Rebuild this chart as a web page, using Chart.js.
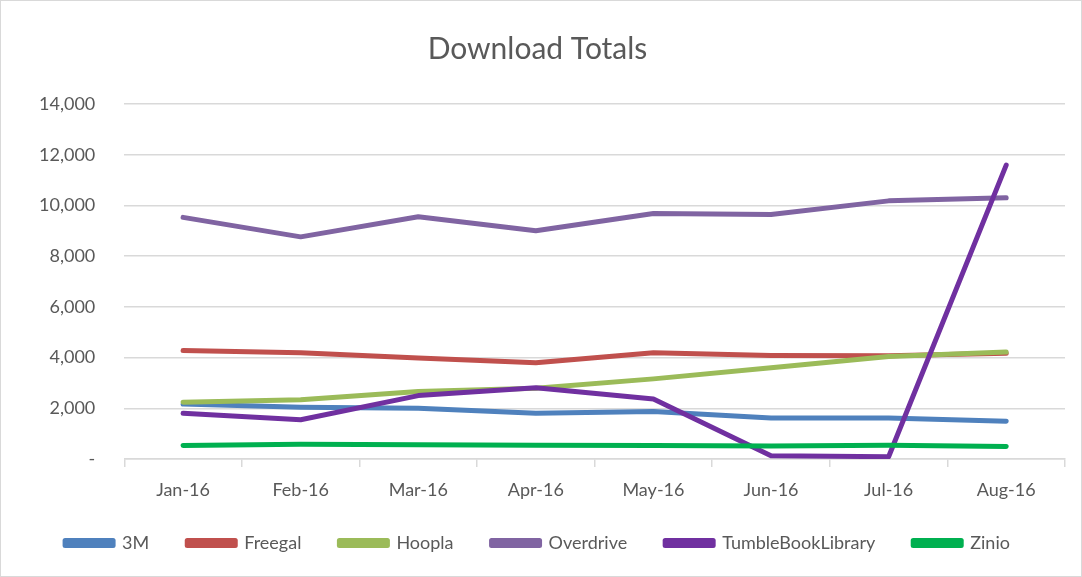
<!DOCTYPE html>
<html>
<head>
<meta charset="utf-8">
<script src="https://cdn.jsdelivr.net/npm/chart.js@4"></script>
<style>
    html, body { margin: 0; padding: 0; background: #ffffff; }
    #wrap { position: relative; width: 1080px; height: 575px; border: 1px solid #d9d9d9; }
</style>
</head>
<body>
<div id="wrap"><canvas id="chart"></canvas></div>
<script>
const months = ['Jan-16', 'Feb-16', 'Mar-16', 'Apr-16', 'May-16', 'Jun-16', 'Jul-16', 'Aug-16'];

const threeM      = [2170, 2040, 2000, 1800, 1870, 1620, 1620, 1490];
const freegal     = [4280, 4190, 3980, 3800, 4190, 4080, 4070, 4170];
const hoopla      = [2240, 2340, 2660, 2790, 3160, 3600, 4040, 4220];
const overdrive   = [9530, 8760, 9550, 9000, 9680, 9640, 10180, 10300];
const tumbleBook  = [1800, 1550, 2500, 2810, 2370, 130, 90, 11590];
const zinio       = [530, 580, 560, 540, 530, 510, 540, 490];

const seriesNames  = ['3M', 'Freegal', 'Hoopla', 'Overdrive', 'TumbleBookLibrary', 'Zinio'];
const seriesColors = ['#4f81bd', '#c0504d', '#9bbb59', '#8064a2', '#7030a0', '#00b050'];
const seriesData   = [threeM, freegal, hoopla, overdrive, tumbleBook, zinio];

const textColor = '#595959';
const fontFamily = 'Lato, "Open Sans", sans-serif';

// later series drawn on top, like Excel
const datasets = seriesNames.map((name, i) => ({
    label: name,
    data: seriesData[i],
    borderColor: seriesColors[i],
    backgroundColor: seriesColors[i],
    borderWidth: 5,
    pointRadius: 0,
    tension: 0,
    borderCapStyle: 'round',
    borderJoinStyle: 'round',
    order: seriesNames.length - i
}));

new Chart(document.getElementById('chart').getContext('2d'), {
    type: 'line',
    data: { labels: months, datasets: datasets },
    options: {
        responsive: true,
        maintainAspectRatio: false,
        animation: false,
        layout: { padding: { left: 9, right: 16, top: 10, bottom: 14 } },
        scales: {
            x: {
                offset: true,
                grid: {
                    display: true,
                    drawOnChartArea: false,
                    offset: true,
                    tickLength: 8,
                    color: '#d9d9d9',
                    lineWidth: 1.5
                },
                border: { display: true, color: '#d9d9d9', width: 1.5 },
                ticks: {
                    color: textColor,
                    font: { family: fontFamily, size: 18 },
                    padding: 12,
                    maxRotation: 0
                },
                // fixed height so the plot bottom lands where Excel put it,
                // and don't clip the month labels to that smaller box
                afterFit: function(scale) {
                    scale.height = 37;
                    scale._computeLabelArea = () => undefined;
                }
            },
            y: {
                min: 0,
                max: 14000,
                grid: { color: '#d9d9d9', lineWidth: 1.5, drawTicks: false },
                border: { display: false },
                ticks: {
                    stepSize: 2000,
                    color: textColor,
                    font: { family: fontFamily, size: 18 },
                    padding: 29,
                    callback: function(value) {
                        return value === 0 ? '-' : value.toLocaleString('en-US');
                    }
                }
            }
        },
        plugins: {
            title: {
                display: true,
                text: 'Download Totals',
                color: textColor,
                font: { family: fontFamily, size: 30, weight: 'normal' },
                padding: { top: 20, bottom: 37 }
            },
            legend: {
                position: 'bottom',
                labels: {
                    color: textColor,
                    font: { family: fontFamily, size: 18 },
                    boxWidth: 48,
                    boxHeight: 5,
                    padding: 38,
                    sort: (a, b) => a.datasetIndex - b.datasetIndex
                }
            },
            tooltip: { enabled: false }
        }
    }
});
</script>
</body>
</html>
